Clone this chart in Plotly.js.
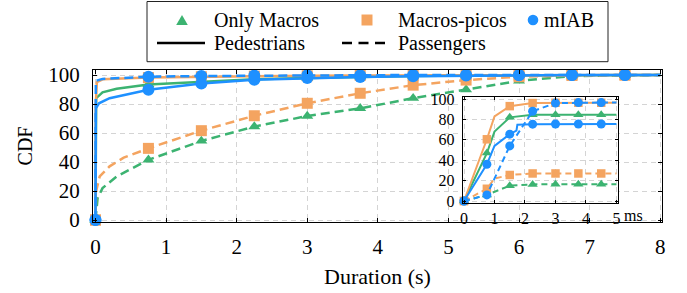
<!DOCTYPE html>
<html><head><meta charset="utf-8">
<script src="https://cdn.plot.ly/plotly-3.0.1.min.js"></script>
<style>html,body{margin:0;padding:0;background:#fff}#chart{width:687px;height:293px}</style>
</head><body><div id="chart"></div>
<script>
// ---------- Data: main plot (Duration in s, CDF in %) ----------
const markX = [0, 0.75, 1.5, 2.25, 3, 3.75, 4.5, 5.25, 6, 6.75, 7.5];

const macrosPedX  = [0, 0.01, 0.1, 0.3, 0.75, 1.5, 2.25, 3, 3.75, 4.5, 5.25, 6, 6.75, 7.5, 8];
const macrosPedY  = [0, 84, 88, 90.5, 93.5, 95.5, 97, 98, 98.8, 99.3, 99.6, 99.8, 100, 100, 100];
const macrosPassX = [0, 0.03, 0.1, 0.3, 0.75, 1.5, 2.25, 3, 3.75, 4.5, 5.25, 6, 6.75, 7.5, 8];
const macrosPassY = [0, 15, 22, 30, 41.5, 54.5, 64.4, 71.7, 77, 84, 90, 96, 99.3, 100, 100];
const picosPedX   = [0, 0.005, 0.02, 0.1, 0.75, 1.5, 2.25, 3, 3.75, 4.5, 5.25, 6, 6.75, 7.5, 8];
const picosPedY   = [0, 80, 95, 97, 98.2, 98.8, 99.2, 99.5, 99.7, 99.8, 99.9, 100, 100, 100, 100];
const picosPassX  = [0, 0.01, 0.06, 0.2, 0.4, 0.75, 1.5, 2.25, 3, 3.75, 4.5, 5.25, 6, 6.75, 7.5, 8];
const picosPassY  = [0, 20, 30, 37, 43, 49.4, 61.6, 71.9, 80.5, 87.4, 93, 96.5, 98.8, 99.7, 100, 100];
const miabPedX    = [0, 0.005, 0.05, 0.2, 0.75, 1.5, 2.25, 3, 3.75, 4.5, 5.25, 6, 6.75, 7.5, 8];
const miabPedY    = [0, 77, 80.5, 84, 89.8, 94.2, 96.7, 97.9, 98.7, 99.2, 99.6, 99.8, 100, 100, 100];
const miabPassX   = [0, 0.005, 0.1, 0.75, 1.5, 2.25, 3, 3.75, 4.5, 5.25, 6, 6.75, 7.5, 8];
const miabPassY   = [0, 96, 97.3, 98.8, 99.3, 99.6, 99.8, 99.9, 100, 100, 100, 100, 100, 100];

// ---------- Data: inset (Duration in ms) ----------
const markX2 = [0, 0.75, 1.5, 2.25, 3, 3.75, 4.5];

const iMacrosPedX  = [0, 0.75, 1.0, 1.5, 2.25, 3, 3.75, 4.5, 5];
const iMacrosPedY  = [0, 47, 68, 82, 84.5, 84.5, 84.5, 84.5, 84.5];
const iMacrosPassX = [0, 0.75, 1.5, 2.25, 3, 3.75, 4.5, 5];
const iMacrosPassY = [0, 6, 15, 16.3, 16.5, 16.5, 16.5, 16.5];
const iPicosPedX   = [0, 0.75, 1.0, 1.5, 2.25, 3, 3.75, 4.5, 5];
const iPicosPedY   = [0, 60.5, 83, 93, 96, 96.3, 96.3, 96.3, 96.3];
const iPicosPassX  = [0, 0.75, 1.0, 1.5, 2.25, 3, 3.75, 4.5, 5];
const iPicosPassY  = [0, 12, 22, 25.5, 27, 27, 27, 27, 27];
const iMiabPedX    = [0, 0.75, 1.0, 1.5, 1.72, 1.75, 2.25, 3, 3.75, 4.5, 5];
const iMiabPedY    = [0, 36, 54, 65.5, 69, 74.8, 75.3, 75.5, 75.5, 75.5, 75.5];
const iMiabPassX   = [0, 0.75, 1.5, 2.25, 3, 3.75, 4.5, 5];
const iMiabPassY   = [0, 6, 54, 88, 96, 96.5, 96.5, 96.5];

const xTicks = [0, 1, 2, 3, 4, 5, 6, 7, 8];
const yTicks = [0, 20, 40, 60, 80, 100];
const xTicks2 = [0, 1, 2, 3, 4, 5];
const xTickText2 = ['0', '1', '2', '3', '4', '5'];
const yTicks2 = [0, 20, 40, 60, 80, 100];

const legendMarkers = ['Only Macros', 'Macros-picos', 'mIAB'];
const legendLines = ['Pedestrians', 'Passengers'];

// ---------- Styles ----------
const GREEN = '#3cb371', ORANGE = '#f4a460', BLUE = '#1e90ff';
const FONT = '"Liberation Serif", "Times New Roman", Times, serif';

function pick(xs, ys, mx) {
  const ox = [], oy = [];
  xs.forEach((x, i) => { if (mx.includes(x)) { ox.push(x); oy.push(ys[i]); } });
  return [ox, oy];
}

const traces = [];
function addSeries(xs, ys, color, symbol, dash, inset) {
  const xa = inset ? 'x2' : 'x', ya = inset ? 'y2' : 'y';
  traces.push({x: xs, y: ys, xaxis: xa, yaxis: ya, mode: 'lines', type: 'scatter',
    line: {color: color, width: inset ? 2 : 2.5, dash: dash ? (inset ? '6px,4px' : '9px,5px') : 'solid'},
    hoverinfo: 'skip', showlegend: false, cliponaxis: false});
  const [mx, my] = pick(xs, ys, inset ? markX2 : markX);
  const sz = inset ? {circle: 9, square: 8.5, 'triangle-up': 9} : {circle: 12, square: 11, 'triangle-up': 10.5};
  traces.push({x: mx, y: my, xaxis: xa, yaxis: ya, mode: 'markers', type: 'scatter',
    marker: {color: color, symbol: symbol, size: sz[symbol], line: {width: 0}},
    hoverinfo: 'skip', showlegend: false, cliponaxis: false});
}

addSeries(macrosPedX, macrosPedY, GREEN, 'triangle-up', false, false);
addSeries(macrosPassX, macrosPassY, GREEN, 'triangle-up', true, false);
addSeries(picosPedX, picosPedY, ORANGE, 'square', false, false);
addSeries(picosPassX, picosPassY, ORANGE, 'square', true, false);
addSeries(miabPedX, miabPedY, BLUE, 'circle', false, false);
addSeries(miabPassX, miabPassY, BLUE, 'circle', true, false);

addSeries(iMacrosPedX, iMacrosPedY, GREEN, 'triangle-up', false, true);
addSeries(iMacrosPassX, iMacrosPassY, GREEN, 'triangle-up', true, true);
addSeries(iPicosPedX, iPicosPedY, ORANGE, 'square', false, true);
addSeries(iPicosPassX, iPicosPassY, ORANGE, 'square', true, true);
addSeries(iMiabPedX, iMiabPedY, BLUE, 'circle', false, true);
addSeries(iMiabPassX, iMiabPassY, BLUE, 'circle', true, true);

// pixel -> paper helpers (plot area: 93..662 x, 70..222 y)
const L = 93, R = 662, T = 70, B = 222;
const PX = p => (p - L) / (R - L);
const PY = p => (B - p) / (B - T);

const gridStyle = {showgrid: true, gridcolor: '#d4d4d4', gridwidth: 1, griddash: '5px,4px'};
const axBase = Object.assign({
  ticks: 'inside', ticklen: 4, tickcolor: '#000', tickwidth: 1,
  showline: true, linecolor: '#000', linewidth: 1, mirror: 'ticks',
  zeroline: false, tickmode: 'array', fixedrange: true
}, gridStyle);

const layout = {
  width: 687, height: 293,
  margin: {l: L, r: 687 - R, t: T, b: 293 - B, pad: 0},
  paper_bgcolor: '#fff', plot_bgcolor: '#fff',
  font: {family: FONT, color: '#000'},
  showlegend: false,
  xaxis: Object.assign({}, axBase, {
    range: [-0.035, 8.025], tickvals: xTicks, ticklabelstandoff: 6,
    tickfont: {family: FONT, size: 21, color: '#000'},
    title: {text: 'Duration (s)', font: {family: FONT, size: 22, color: '#000'}, standoff: 10}
  }),
  yaxis: Object.assign({}, axBase, {
    range: [-1.38, 103.45], tickvals: yTicks, ticklabelstandoff: 8,
    tickfont: {family: FONT, size: 21, color: '#000'},
    title: {text: 'CDF', font: {family: FONT, size: 20, color: '#000'}, standoff: 10}
  }),
  xaxis2: Object.assign({}, axBase, {
    anchor: 'y2', domain: [PX(462.7), PX(618.3)], range: [-0.043, 5.06],
    tickvals: xTicks2, ticktext: xTickText2, ticklen: 3, ticklabelstandoff: 0,
    tickfont: {family: FONT, size: 16, color: '#000'}
  }),
  yaxis2: Object.assign({}, axBase, {
    anchor: 'x2', domain: [PY(203.3), PY(96.7)], range: [-2.25, 102.25],
    tickvals: yTicks2, ticklen: 3, ticklabelstandoff: 4,
    tickfont: {family: FONT, size: 16, color: '#000'}
  }),
  shapes: [], annotations: []
};

// "ms" unit next to the last inset tick
layout.annotations.push({xref: 'paper', yref: 'paper', x: PX(623), y: PY(215), xanchor: 'left', yanchor: 'middle',
  text: 'ms', showarrow: false, borderpad: 0, font: {family: FONT, size: 16, color: '#000'}});

// Legend box
layout.shapes.push({type: 'rect', xref: 'paper', yref: 'paper', x0: PX(147), x1: PX(608), y0: PY(61.7), y1: PY(1.5),
  line: {color: '#222', width: 1}, fillcolor: '#fff', layer: 'above'});
// marker symbols
const r1 = 20, r2 = 43;
layout.shapes.push({type: 'path', xref: 'paper', yref: 'paper',
  path: `M ${PX(176.2)},${PY(r1 + 5)} L ${PX(187.8)},${PY(r1 + 5)} L ${PX(182)},${PY(r1 - 5)} Z`,
  fillcolor: GREEN, line: {width: 0}, layer: 'above'});
layout.shapes.push({type: 'rect', xref: 'paper', yref: 'paper', x0: PX(361.5), x1: PX(372.5), y0: PY(r1 + 5.5), y1: PY(r1 - 5.5),
  fillcolor: ORANGE, line: {width: 0}, layer: 'above'});
layout.shapes.push({type: 'circle', xref: 'paper', yref: 'paper', x0: PX(527.7), x1: PX(538.3), y0: PY(r1 + 5.3), y1: PY(r1 - 5.3),
  fillcolor: BLUE, line: {width: 0}, layer: 'above'});
// line symbols
layout.shapes.push({type: 'line', xref: 'paper', yref: 'paper', x0: PX(157), x1: PX(205), y0: PY(r2), y1: PY(r2),
  line: {color: '#000', width: 2.5}, layer: 'above'});
layout.shapes.push({type: 'line', xref: 'paper', yref: 'paper', x0: PX(342), x1: PX(385), y0: PY(r2), y1: PY(r2),
  line: {color: '#000', width: 2.5, dash: '10px,6.5px'}, layer: 'above'});
// legend texts
const legFont = {family: FONT, size: 20, color: '#000'};
[[legendMarkers[0], 213, r1], [legendMarkers[1], 397, r1], [legendMarkers[2], 543, r1],
 [legendLines[0], 213, r2], [legendLines[1], 397, r2]].forEach(([t, x, y]) => {
  layout.annotations.push({xref: 'paper', yref: 'paper', x: PX(x), y: PY(y), xanchor: 'left', yanchor: 'middle',
    text: t, showarrow: false, font: legFont, borderpad: 0});
});

Plotly.newPlot('chart', traces, layout, {staticPlot: true, displayModeBar: false});
</script></body></html>
